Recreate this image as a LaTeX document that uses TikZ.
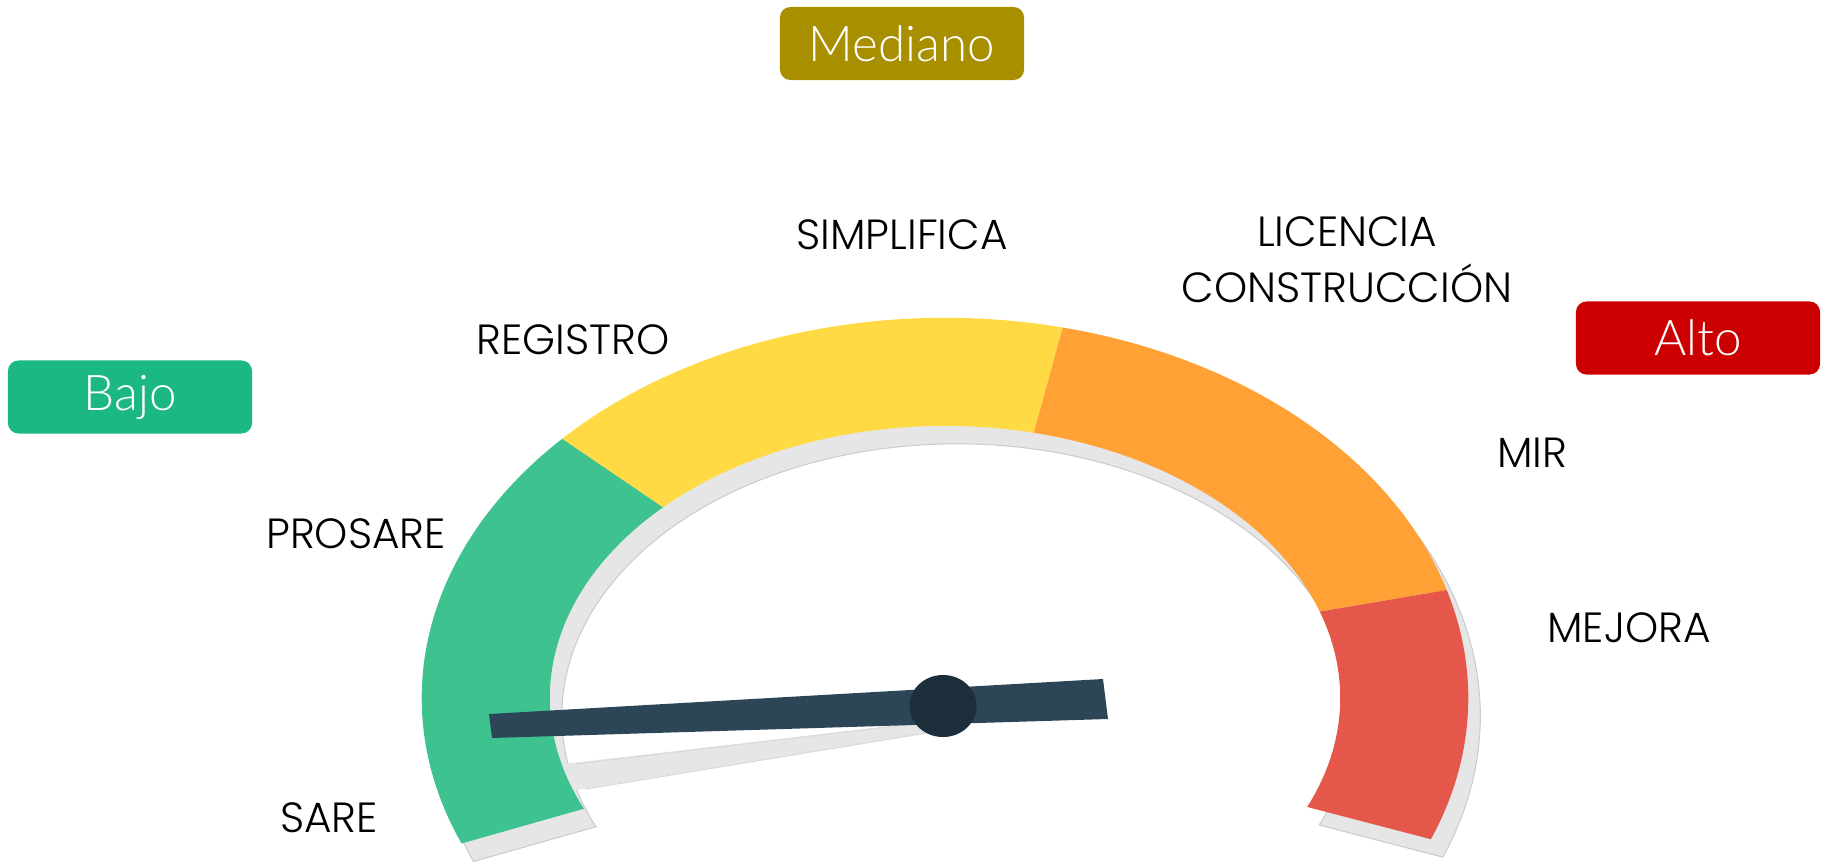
\documentclass[tikz,border=0pt]{standalone}
\usepackage{fontspec}
\newcommand{\labelsize}{\fontsize{13}{17}\selectfont}
\IfFontExistsTF{Poppins Light}{\setmainfont{Poppins Light}\renewcommand{\labelsize}{\fontsize{12}{16}\selectfont}}{%
  \IfFontExistsTF{Poppins-Light}{\setmainfont{Poppins-Light}\renewcommand{\labelsize}{\fontsize{12}{16}\selectfont}}{%
    \IfFontExistsTF{Lato Light}{\setmainfont{Lato Light}}{\setmainfont{Poppins}\renewcommand{\labelsize}{\fontsize{12}{16}\selectfont}}}}
\IfFontExistsTF{Lato Light}{\newfontfamily\boxfont{Lato Light}}{\newfontfamily\boxfont{Liberation Sans}}
\usepackage{tikz}
\usetikzlibrary{shapes.geometric}

\definecolor{gaugegreen}{HTML}{3EC290}
\definecolor{gaugeyellow}{HTML}{FFDA44}
\definecolor{gaugeorange}{HTML}{FFA135}
\definecolor{gaugered}{HTML}{E5574A}
\definecolor{gaugegray}{HTML}{E6E6E6}
\definecolor{needlecol}{HTML}{2C4657}
\definecolor{pivotcol}{HTML}{1D2E3B}
\definecolor{bajocol}{HTML}{1BB883}
\definecolor{medianocol}{HTML}{A88F00}
\definecolor{altocol}{HTML}{CC0000}

\begin{document}
\begin{tikzpicture}[x=0.01cm, y=0.01cm,
		mylabel/.style={font=\labelsize, align=center, inner sep=0pt},
		mybox/.style={rounded corners=3pt, minimum width=2.44cm, minimum height=0.73cm, inner sep=0pt, text=white, font=\boxfont\fontsize{14}{16}\selectfont}
	]
	\useasboundingbox (0,0) rectangle (1825,-864);
	\coordinate (c) at (945,-698);

	% gray back of the gauge
	\filldraw[gaugegray, draw=gray!40, line width=0.3pt, shift={(12,-18)}] ([shift={(c)}]202.5:5.23cm and 3.80cm) arc[start angle=202.5, end angle=-21.8, x radius=5.23cm, y radius=3.80cm] -- ([shift={(c)}]-23.6:3.95cm and 2.72cm) arc[start angle=-23.6, end angle=204, x radius=3.95cm, y radius=2.72cm] -- cycle;
	\fill[gaugegray] (545,-766) -- (552,-794) -- (945,-730) -- (945,-720) -- cycle;
	\draw[gray!30, line width=0.3pt] (576,-764) -- (945,-720);
	\draw[gray!30, line width=0.3pt] (586,-789) -- (945,-730);

	% colour segments
	\fill[gaugegreen] ([shift={(c)}]202.5:5.23cm and 3.80cm) arc[start angle=202.5, end angle=137, x radius=5.23cm, y radius=3.80cm] -- ([shift={(c)}]135.5:3.95cm and 2.72cm) arc[start angle=135.5, end angle=204, x radius=3.95cm, y radius=2.72cm] -- cycle;
	\fill[gaugeyellow] ([shift={(c)}]137:5.23cm and 3.80cm) arc[start angle=137, end angle=77, x radius=5.23cm, y radius=3.80cm] -- ([shift={(c)}]77:3.95cm and 2.72cm) arc[start angle=77, end angle=135.5, x radius=3.95cm, y radius=2.72cm] -- cycle;
	\fill[gaugeorange] ([shift={(c)}]77:5.23cm and 3.80cm) arc[start angle=77, end angle=16.5, x radius=5.23cm, y radius=3.80cm] -- ([shift={(c)}]18.5:3.95cm and 2.72cm) arc[start angle=18.5, end angle=77, x radius=3.95cm, y radius=2.72cm] -- cycle;
	\fill[gaugered] ([shift={(c)}]16.5:5.23cm and 3.80cm) arc[start angle=16.5, end angle=-21.8, x radius=5.23cm, y radius=3.80cm] -- ([shift={(c)}]-23.6:3.95cm and 2.72cm) arc[start angle=-23.6, end angle=18.5, x radius=3.95cm, y radius=2.72cm] -- cycle;

	% needle
	\fill[needlecol] (489,-714) -- (492,-738) -- (1108,-719) -- (1103,-679) -- cycle;
	\node[ellipse, fill=pivotcol, minimum width=0.67cm, minimum height=0.62cm, inner sep=0pt] (pivot) at (943,-706) {};

	% labels
	\node[mylabel] (simplifica) at (902,-235) {SIMPLIFICA};
	\node[mylabel] (licencia) at (1347,-260) {LICENCIA\\CONSTRUCCIÓN};
	\node[mylabel] (registro) at (573,-340) {REGISTRO};
	\node[mylabel] (prosare) at (356,-534) {PROSARE};
	\node[mylabel] (mir) at (1532,-453) {MIR};
	\node[mylabel] (mejora) at (1629,-628) {MEJORA};
	\node[mylabel] (sare) at (329,-818) {SARE};

	\node[mybox, fill=medianocol] (mediano) at (902,-43.5) {Mediano};
	\node[mybox, fill=bajocol] (bajo) at (130,-397) {Bajo};
	\node[mybox, fill=altocol] (alto) at (1698,-338) {Alto};
\end{tikzpicture}
\end{document}
